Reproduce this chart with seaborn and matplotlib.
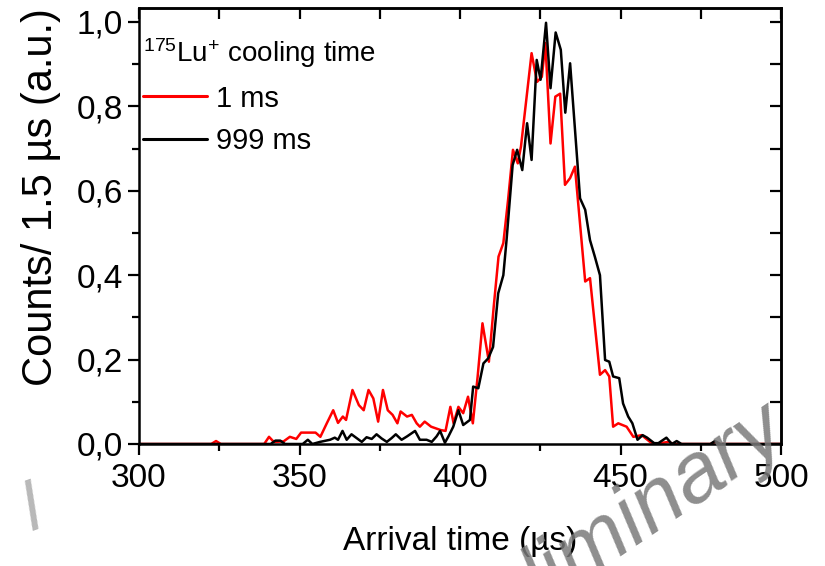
import matplotlib
matplotlib.use("Agg")
import matplotlib.pyplot as plt
import matplotlib.ticker as mticker
import seaborn as sns
import pandas as pd

# ---- data ----
t_1ms = [300, 322.5, 324, 325.5, 339, 340.5, 342, 345, 347, 349, 350.5, 353.5, 355, 356.5,
         358.5, 360.5, 362, 363.5, 364.5, 366.5, 368.5, 370, 371.5, 373, 374.5, 376, 377.5,
         379, 380.5, 381.5, 383.5, 385, 386.5, 387.5, 389, 391, 392.5, 394, 395.5, 397, 398,
         399.5, 401, 402.5, 404, 405.5, 407, 409, 410.5, 412, 413.5, 415, 416.5, 418, 419,
         422.3, 424, 425.5, 426.6, 428.2, 429.7, 431.2, 432.7, 434.3, 435.8, 439, 440.5,
         443.6, 445.2, 446.5, 447.7, 449.3, 451.9, 454, 456.6, 459.2, 460.5, 465, 466.5,
         478, 479.5, 481, 500]
v_1ms = [0, 0, 0.007, 0, 0, 0.017, 0.005, 0.006, 0.017, 0.012, 0.027, 0.027, 0.027, 0.017,
         0.049, 0.08, 0.05, 0.065, 0.057, 0.128, 0.092, 0.08, 0.128, 0.108, 0.053, 0.128, 0.08,
         0.069, 0.049, 0.077, 0.065, 0.069, 0.049, 0.041, 0.053, 0.041, 0.037, 0.033, 0.031, 0.088, 0.049,
         0.088, 0.073, 0.112, 0.049, 0.16, 0.286, 0.195, 0.325, 0.444, 0.476, 0.58, 0.697, 0.665, 0.705,
         0.926, 0.858, 0.87, 0.95, 0.712, 0.823, 0.83, 0.614, 0.63, 0.657, 0.385, 0.393,
         0.164, 0.175, 0.16, 0.041, 0.049, 0.041, 0.017, 0.021, 0.005, 0, 0.005, 0,
         0, 0.005, 0, 0]

t_999ms = [300, 341, 342.5, 344, 345.5, 351, 352.6, 354, 356.4, 359.5, 361, 362, 363.4, 364.7,
           366.2, 367.8, 369.4, 370.9, 372.5, 374, 375.6, 377.2, 378.7, 380, 381.8, 383.5, 386,
           387.5, 389.6, 391.2, 392.7, 393.8, 395.3, 396.4, 397.9, 399.5, 401, 403.1, 404.1,
           405.7, 407.3, 408.8, 410.3, 411.9, 413.5, 414.5, 416.4, 417.8, 419.4, 420.9, 422.3,
           423.9, 425.1, 426.8, 428.2, 429.8, 431.4, 432.8, 434.3, 437.4, 439, 440.5, 442,
           443.6, 445.2, 446.5, 447.7, 449.6, 450.8, 452.4, 453.7, 455.3, 456.9, 458.3, 460.5,
           461.8, 464.3, 466, 467.5, 469, 478, 479.4, 481, 500]
v_999ms = [0, 0, 0.008, 0.008, 0, 0, 0.01, 0, 0.005, 0.01, 0.015, 0.01, 0.031, 0.01,
           0.023, 0.014, 0.005, 0.016, 0.012, 0.023, 0.013, 0.005, 0.014, 0.023, 0.01, 0.018, 0.031,
           0.01, 0.01, 0.005, 0.018, 0.031, 0.003, 0.018, 0.041, 0.08, 0.045, 0.057, 0.136,
           0.132, 0.191, 0.203, 0.23, 0.357, 0.40, 0.483, 0.661, 0.697, 0.649, 0.76, 0.673,
           0.91, 0.863, 0.998, 0.843, 0.975, 0.934, 0.785, 0.902, 0.582, 0.555, 0.483, 0.444,
           0.40, 0.199, 0.195, 0.16, 0.156, 0.096, 0.065, 0.049, 0.01, 0.021, 0.015, 0.002,
           0.002, 0.015, 0, 0.007, 0, 0, 0.007, 0, 0]

series_labels = ["1 ms", "999 ms"]
series_colors = ["#ff0000", "#000000"]
x_ticks = [300, 350, 400, 450, 500]
y_ticks = [0.0, 0.2, 0.4, 0.6, 0.8, 1.0]

df = pd.concat([
    pd.DataFrame({"t": t_1ms, "v": v_1ms, "cool": series_labels[0]}),
    pd.DataFrame({"t": t_999ms, "v": v_999ms, "cool": series_labels[1]}),
])

sns.set_style("ticks")
FONT = ["Liberation Sans Narrow", "Liberation Sans", "DejaVu Sans"]
plt.rcParams["font.family"] = FONT
plt.rcParams["mathtext.fontset"] = "custom"
plt.rcParams["mathtext.rm"] = "Liberation Sans"
plt.rcParams["mathtext.it"] = "Liberation Sans"
for k in ["text.color", "axes.labelcolor", "xtick.color", "ytick.color", "axes.edgecolor"]:
    plt.rcParams[k] = "black"

fig = plt.figure(figsize=(8.25, 5.66), dpi=100)
ax = fig.add_axes([139/825, 1-444/566, (781-139)/825, (444-8)/566])

sns.lineplot(data=df, x="t", y="v", hue="cool", palette=series_colors,
             hue_order=series_labels, sort=False, estimator=None, lw=1.8, ax=ax,
             legend=True)

ax.set_xlim(300, 500)
ax.set_ylim(0, 1.033)
ax.set_xticks(x_ticks)
ax.set_yticks(y_ticks)
ax.xaxis.set_minor_locator(mticker.MultipleLocator(25))
ax.yaxis.set_minor_locator(mticker.MultipleLocator(0.1))
ax.yaxis.set_major_formatter(mticker.FuncFormatter(lambda v, p: f"{v:.1f}".replace(".", ",")))

for s in ax.spines.values():
    s.set_visible(True)
    s.set_linewidth(1.8)
    s.set_color("black")

ax.tick_params(axis="both", which="major", labelsize=24, width=1.6, length=8,
               direction="out", top=False, right=False)
ax.tick_params(axis="both", which="minor", width=1.6, length=5,
               direction="out", top=False, right=False)
ax.tick_params(axis="x", which="major", pad=6)

ax2x = ax.secondary_xaxis("top")
ax2x.set_xticks(x_ticks)
ax2x.xaxis.set_minor_locator(mticker.MultipleLocator(25))
ax2x.tick_params(which="both", direction="in", length=8, width=1.6, labeltop=False)
ax2x.spines["top"].set_linewidth(1.8)
ax2y = ax.secondary_yaxis("right")
ax2y.set_yticks(y_ticks)
ax2y.yaxis.set_minor_locator(mticker.MultipleLocator(0.1))
ax2y.tick_params(which="both", direction="in", length=8, width=1.6, labelright=False)
ax2y.spines["right"].set_linewidth(1.8)

ax.set_xlabel("Arrival time (µs)", fontsize=24, labelpad=23)
ax.set_ylabel("Counts/ 1.5 µs (a.u.)", fontsize=30)
ax.yaxis.set_label_coords(-0.122, 0.567)

leg = ax.legend(title=r"$^{175}$Lu$^{+}$ cooling time", loc="upper left",
                frameon=False, fontsize=21, title_fontsize=20, handlelength=2.2,
                handletextpad=0.3, labelspacing=0.5, borderaxespad=0.0,
                bbox_to_anchor=(-0.012, 0.962))
leg._legend_box.align = "left"
for h in leg.legend_handles:
    h.set_linewidth(2.2)

# watermark
fig.text(790/825, 1-440/566, "Preliminary", rotation=34, rotation_mode="anchor",
         fontsize=62, color="#7a7a7a", alpha=0.85, ha="right", va="baseline",
         style="italic", family="Liberation Sans", zorder=10)
fig.text(15/825, 1-530/566, "l", rotation=20, fontsize=50, color="#9a9a9a",
         alpha=0.7, ha="left", va="baseline", style="italic", family="Liberation Sans")

fig.savefig("out.png", dpi=100)
